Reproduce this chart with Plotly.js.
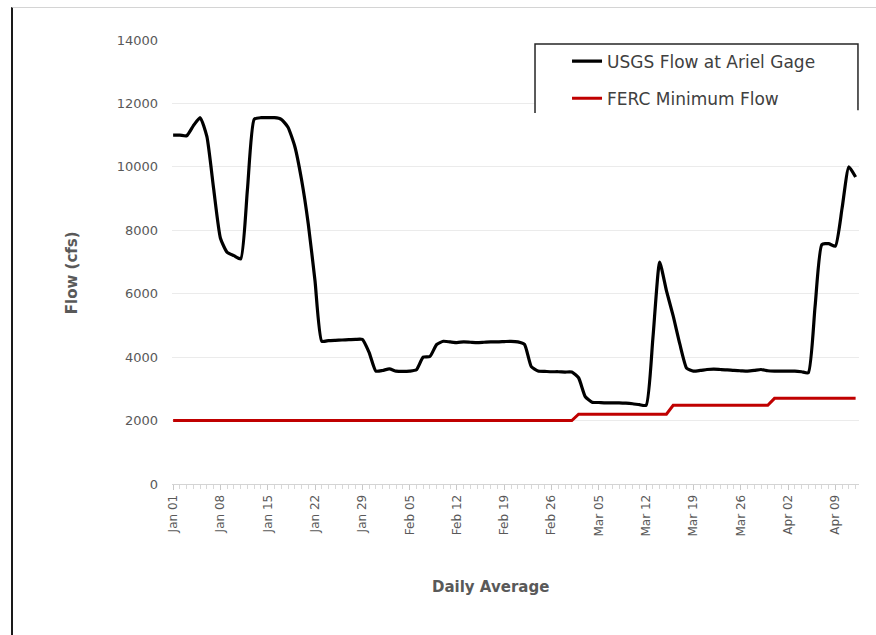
<!DOCTYPE html>
<html>
<head>
<meta charset="utf-8">
<script src="https://cdn.plot.ly/plotly-3.0.1.min.js"></script>
<style>
  html, body { margin: 0; padding: 0; background: #ffffff; }
  #chart { position: absolute; left: 0; top: 0; width: 876px; height: 635px; }
  #frame { position: absolute; left: 11px; top: 7px; width: 865px; height: 628px;
           border-left: 2px solid #1a1a1a; border-top: 1px solid #d4d4d4; pointer-events: none; }
</style>
</head>
<body>
<div id="chart"></div>
<div id="frame"></div>
<script>
// ---- Data (daily averages, Jan 01 .. Apr 12) ----
const startDate = '2019-01-01';
const seriesNames = ['USGS Flow at Ariel Gage', 'FERC Minimum Flow'];
const usgsFlow = [
  11000, 11000, 10980, 11300, 11550, 10950, 9300, 7750, 7300, 7200,
  7100, 9300, 11500, 11550, 11550, 11550, 11500, 11250, 10650, 9600,
  8200, 6400, 4500, 4520, 4530, 4540, 4550, 4560, 4560, 4150,
  3560, 3580, 3630, 3560, 3550, 3560, 3600, 4000, 4020, 4400,
  4500, 4480, 4460, 4480, 4470, 4460, 4470, 4480, 4480, 4490,
  4500, 4480, 4400, 3700, 3560, 3550, 3540, 3540, 3530, 3530,
  3350, 2750, 2580, 2570, 2560, 2560, 2560, 2550, 2530, 2500,
  2480, 4600, 7000, 6100, 5300, 4400, 3650, 3560, 3580, 3610,
  3620, 3610, 3600, 3580, 3570, 3560, 3580, 3610, 3570, 3560,
  3560, 3560, 3560, 3540, 3510, 5600, 7550, 7580, 7500, 8700,
  10000, 9680
];
const fercMinimum = [
  2000, 2000, 2000, 2000, 2000, 2000, 2000, 2000, 2000, 2000,
  2000, 2000, 2000, 2000, 2000, 2000, 2000, 2000, 2000, 2000,
  2000, 2000, 2000, 2000, 2000, 2000, 2000, 2000, 2000, 2000,
  2000, 2000, 2000, 2000, 2000, 2000, 2000, 2000, 2000, 2000,
  2000, 2000, 2000, 2000, 2000, 2000, 2000, 2000, 2000, 2000,
  2000, 2000, 2000, 2000, 2000, 2000, 2000, 2000, 2000, 2000,
  2200, 2200, 2200, 2200, 2200, 2200, 2200, 2200, 2200, 2200,
  2200, 2200, 2200, 2200, 2480, 2480, 2480, 2480, 2480, 2480,
  2480, 2480, 2480, 2480, 2480, 2480, 2480, 2480, 2480, 2700,
  2700, 2700, 2700, 2700, 2700, 2700, 2700, 2700, 2700, 2700,
  2700, 2700
];
const yTickVals = [0, 2000, 4000, 6000, 8000, 10000, 12000, 14000];
const yTitle = 'Flow (cfs)';
const xTitle = 'Daily Average';

// build the daily date labels
const dates = [];
const t0 = Date.parse(startDate + 'T00:00:00Z');
for (let i = 0; i < usgsFlow.length; i++) {
  dates.push(new Date(t0 + i * 86400000).toISOString().slice(0, 10));
}

const DAY = 86400000;
const grey = '#595959';

const traces = [
  {
    x: dates, y: usgsFlow, name: seriesNames[0], type: 'scatter', mode: 'lines',
    line: { color: '#000000', width: 3.2, shape: 'spline', smoothing: 0.5 },
    legendgroup: 'a'
  },
  {
    x: dates, y: fercMinimum, name: seriesNames[1], type: 'scatter', mode: 'lines',
    line: { color: '#c00000', width: 3 },
    legendgroup: 'b'
  }
];

const layout = {
  width: 876, height: 635,
  margin: { l: 172, r: 17, t: 40, b: 151 },
  paper_bgcolor: 'rgba(0,0,0,0)',
  plot_bgcolor: '#ffffff',
  font: { family: 'DejaVu Sans', color: grey },
  showlegend: true,
  legend: {
    x: 0.575, y: 0.992, xanchor: 'left', yanchor: 'top',
    bgcolor: 'rgba(0,0,0,0)', borderwidth: 0,
    font: { family: 'DejaVu Sans', size: 17, color: '#404040' },
    tracegroupgap: 12, traceorder: 'grouped'
  },
  xaxis: {
    type: 'date',
    range: ['2018-12-31 20:00', '2019-04-12 12:00'],
    tick0: startDate, dtick: 7 * DAY,
    tickformat: '%b %d', tickangle: -90,
    tickfont: { family: 'DejaVu Sans', size: 12, color: grey },
    showgrid: false, zeroline: false,
    showline: true, linecolor: '#d4d4d4', linewidth: 1,
    ticks: 'outside', ticklen: 5, tickcolor: '#c8c8c8', tickwidth: 1,
    minor: { dtick: DAY, ticks: 'outside', ticklen: 4, tickcolor: '#d8d8d8', tickwidth: 1, showgrid: false },
    fixedrange: true
  },
  yaxis: {
    range: [0, 14000],
    tickvals: yTickVals,
    tickformat: 'd',
    tickfont: { family: 'DejaVu Sans', size: 13, color: grey },
    showgrid: true, gridcolor: '#ebebeb', gridwidth: 1,
    zeroline: false, showline: false, ticks: '',
    ticklabelstandoff: 13,
    fixedrange: true
  },
  shapes: [
    // hide the top gridline (none at 14000 in the reference)
    { type: 'line', xref: 'paper', yref: 'y', x0: 0, x1: 1, y0: 14000, y1: 14000,
      line: { color: '#ffffff', width: 3 }, layer: 'between' },
    // legend panel background
    { type: 'rect', xref: 'paper', yref: 'paper', x0: 0.5284, x1: 0.9985, y0: 0.8356, y1: 0.991,
      fillcolor: '#ffffff', line: { width: 0 }, layer: 'above' },
    // legend panel border (open at the bottom)
    { type: 'path', xref: 'paper', yref: 'paper',
      path: 'M 0.5284 0.8356 L 0.5284 0.991 L 0.9985 0.991 L 0.9985 0.842',
      line: { color: '#262626', width: 1.5 }, layer: 'above' }
  ],
  annotations: [
    { text: '<b>' + yTitle + '</b>', xref: 'paper', yref: 'paper', x: -0.1616, y: 0.477,
      textangle: -90, showarrow: false, font: { family: 'DejaVu Sans', size: 15, color: grey } },
    { text: '<b>' + xTitle + '</b>', xref: 'paper', yref: 'paper', x: 0.463, y: -0.2565,
      showarrow: false, font: { family: 'DejaVu Sans', size: 15, color: grey } }
  ]
};

Plotly.newPlot('chart', traces, layout, { displayModeBar: false, staticPlot: true });
</script>
</body>
</html>
